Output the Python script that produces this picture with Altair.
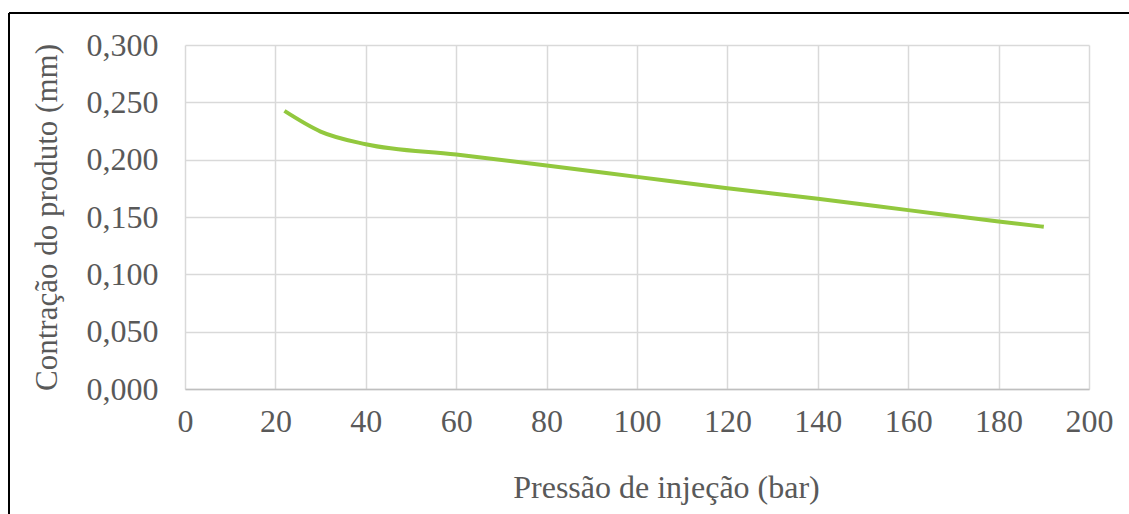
import altair as alt
import pandas as pd

pressure = [22, 30, 40, 60, 80, 100, 120, 140, 160, 180, 190]
shrink = [0.2425, 0.2245, 0.2135, 0.2045, 0.195, 0.185, 0.175, 0.166, 0.156, 0.146, 0.1415]
x_ticks = [0, 20, 40, 60, 80, 100, 120, 140, 160, 180, 200]
y_ticks = [0.0, 0.05, 0.1, 0.15, 0.2, 0.25, 0.3]

df = pd.DataFrame({"p": pressure, "c": shrink})

FONT = "Liberation Serif"
GRAY = "#595959"

line = alt.Chart(df).mark_line(color="#92C83E", strokeWidth=4, interpolate="monotone").encode(
    x=alt.X("p:Q", scale=alt.Scale(domain=[0, 200], nice=False),
            axis=alt.Axis(values=x_ticks, title="Pressão de injeção (bar)", grid=True,
                          gridColor="#d9d9d9", gridWidth=1.5, domainColor="#bfbfbf", domainWidth=1.5,
                          ticks=False, labelPadding=17, labelFontSize=32, labelFont=FONT, labelColor=GRAY,
                          labelFlush=False,
                          titleFont=FONT, titleFontSize=32, titleFontWeight="normal", titleColor=GRAY,
                          titleX=481, titleY=98, titleBaseline="middle", titleAnchor="start", titleAlign="center")),
    y=alt.Y("c:Q", scale=alt.Scale(domain=[0, 0.3], nice=False),
            axis=alt.Axis(values=y_ticks, title="Contração do produto (mm)", grid=True,
                          gridColor="#d9d9d9", gridWidth=1.5, domain=False,
                          labelExpr="replace(format(datum.value, '.3f'), '.', ',')",
                          ticks=False, labelPadding=27, labelFontSize=32, labelFont=FONT, labelColor=GRAY,
                          labelFlush=False,
                          titleFont=FONT, titleFontSize=31, titleFontWeight="normal", titleColor=GRAY,
                          titleX=-138, titleY=172, titleBaseline="middle", titleAlign="center", titleAngle=270)),
)

frame_top = alt.Chart(df).mark_rule(color="black", strokeWidth=2).encode(
    x=alt.value(-176), x2=alt.value(960), y=alt.value(-32))
frame_left = alt.Chart(df).mark_rule(color="black", strokeWidth=2).encode(
    x=alt.value(-176), y=alt.value(-32), y2=alt.value(480))

chart = alt.layer(frame_top, frame_left, line).properties(
    width=904, height=344,
    padding={"left": 185, "top": 45, "right": 40, "bottom": 125},
    autosize=alt.AutoSizeParams(type="none"),
    background="white",
).configure_view(stroke=None)

chart.save("out.html", embed_options={"renderer": "svg", "actions": False})
